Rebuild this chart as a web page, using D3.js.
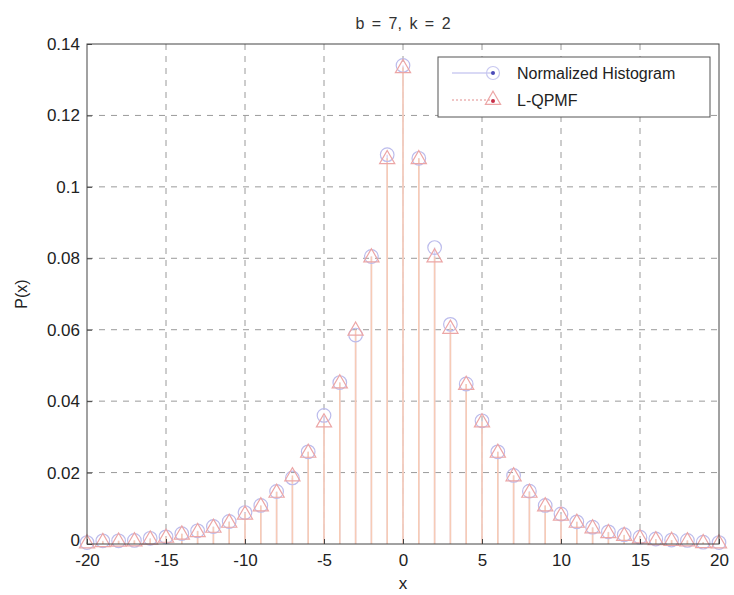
<!DOCTYPE html>
<html><head><meta charset="utf-8">
<script src="https://cdn.jsdelivr.net/npm/d3@7"></script>
<style>body{margin:0;background:#fff}svg{display:block;font-family:"Liberation Sans",Arial,sans-serif}</style>
</head><body>
<svg id="c" width="734" height="595"></svg>
<script>
const xs = [-20,-19,-18,-17,-16,-15,-14,-13,-12,-11,-10,-9,-8,-7,-6,-5,-4,-3,-2,-1,0,1,2,3,4,5,6,7,8,9,10,11,12,13,14,15,16,17,18,19,20];
const histVals = [0.0004,0.0009,0.0009,0.0010,0.0016,0.0020,0.0029,0.0037,0.0049,0.0063,0.0088,0.0108,0.0147,0.0185,0.0258,0.0360,0.0452,0.0585,0.0805,0.1090,0.1340,0.1080,0.0830,0.0615,0.0448,0.0345,0.0258,0.0192,0.0148,0.0108,0.0084,0.0062,0.0047,0.0034,0.0026,0.0019,0.0014,0.0011,0.0010,0.0005,0.0004];
const qpmfVals = [0.0004,0.0008,0.0009,0.0010,0.0015,0.0020,0.0029,0.0036,0.0048,0.0062,0.0085,0.0108,0.0146,0.0192,0.0258,0.0343,0.0452,0.0600,0.0805,0.1080,0.1335,0.1080,0.0805,0.0605,0.0448,0.0343,0.0258,0.0192,0.0146,0.0108,0.0082,0.0062,0.0046,0.0033,0.0025,0.0018,0.0013,0.0011,0.0010,0.0005,0.0004];
const xTicks = [-20,-15,-10,-5,0,5,10,15,20];
const yTicks = [0,0.02,0.04,0.06,0.08,0.1,0.12,0.14];
const seriesNames = ["Normalized Histogram","L-QPMF"];
const titleText = "b = 7, k = 2";

const svg = d3.select("#c");
const L=87, R=719, T=44, B=544;
const x = d3.scaleLinear().domain([-20,20]).range([L,R]);
const y = d3.scaleLinear().domain([0,0.14]).range([B,T]);

// grid
const g = svg.append("g");
g.selectAll(".gx").data(xTicks.slice(1,-1)).join("line")
 .attr("x1",d=>x(d)).attr("x2",d=>x(d)).attr("y1",T).attr("y2",B)
 .attr("stroke","#9a9a9a").attr("stroke-width",1).attr("stroke-dasharray","6,6");
g.selectAll(".gy").data(yTicks.slice(1,-1)).join("line")
 .attr("y1",d=>y(d)).attr("y2",d=>y(d)).attr("x1",L).attr("x2",R)
 .attr("stroke","#9a9a9a").attr("stroke-width",1).attr("stroke-dasharray","6,6");

const hist = xs.map((v,i)=>({x:v,y:histVals[i]}));
const qpmf = xs.map((v,i)=>({x:v,y:qpmfVals[i]}));

// stems
svg.append("g").selectAll("line").data(hist).join("line")
 .attr("x1",d=>x(d.x)).attr("x2",d=>x(d.x)).attr("y1",y(0)).attr("y2",d=>y(d.y))
 .attr("stroke","#dcd6f2").attr("stroke-width",1.5);
svg.append("g").selectAll("line").data(qpmf).join("line")
 .attr("x1",d=>x(d.x)).attr("x2",d=>x(d.x)).attr("y1",y(0)).attr("y2",d=>y(d.y))
 .attr("stroke","#f7cbb6").attr("stroke-width",1.6);

// markers
svg.append("g").selectAll("circle").data(hist).join("circle")
 .attr("cx",d=>x(d.x)).attr("cy",d=>y(d.y)).attr("r",6.8)
 .attr("fill","none").attr("stroke","#bcbcec").attr("stroke-width",1.2);
const tri = d3.symbol().type(d3.symbolTriangle).size(100);
svg.append("g").selectAll("path").data(qpmf).join("path")
 .attr("d",tri).attr("transform",d=>`translate(${x(d.x)},${y(d.y)+1})`)
 .attr("fill","none").attr("stroke","#eca6a6").attr("stroke-width",1.2);

// axes box
svg.append("rect").attr("x",L).attr("y",T).attr("width",R-L).attr("height",B-T)
 .attr("fill","none").attr("stroke","#444").attr("stroke-width",1);

const xAxis = d3.axisBottom(x).tickValues(xTicks).tickSize(-5).tickPadding(10).tickFormat(d=>d);
const ax = svg.append("g").attr("transform",`translate(0,${B})`).call(xAxis);
ax.select(".domain").remove();
ax.selectAll("text").attr("font-size",17).attr("fill","#222").attr("font-family","Liberation Sans, Arial, sans-serif");
ax.selectAll("line").attr("stroke","#444");
const yAxis = d3.axisLeft(y).tickValues(yTicks).tickSize(-5).tickPadding(7).tickFormat(d=>d===0?"0":String(d));
const ay = svg.append("g").attr("transform",`translate(${L},0)`).call(yAxis);
ay.select(".domain").remove();
ay.selectAll("text").attr("font-size",17).attr("fill","#222").attr("font-family","Liberation Sans, Arial, sans-serif");
ay.selectAll("line").attr("stroke","#444");
ay.selectAll(".tick").filter(d=>d===0).select("text").attr("dy","0.1em");

// labels
svg.append("text").attr("x",(L+R)/2).attr("y",29).attr("text-anchor","middle")
 .attr("font-size",16).attr("word-spacing",3).attr("fill","#333").text(titleText);
svg.append("text").attr("x",(L+R)/2).attr("y",589).attr("text-anchor","middle")
 .attr("font-size",17).attr("fill","#222").text("x");
svg.append("text").attr("transform","translate(27,294) rotate(-90)").attr("text-anchor","middle")
 .attr("font-size",16).attr("fill","#222").text("P(x)");

// legend
const lg = svg.append("g");
lg.append("rect").attr("x",438).attr("y",57).attr("width",272).attr("height",60)
 .attr("fill","#fff").attr("stroke","#555").attr("stroke-width",1);
const ly = [73,100];
lg.append("line").attr("x1",452).attr("x2",492).attr("y1",ly[0]).attr("y2",ly[0]).attr("stroke","#ccccf2").attr("stroke-width",1.5);
lg.append("circle").attr("cx",493).attr("cy",ly[0]).attr("r",6.5).attr("fill","none").attr("stroke","#c8c8f0").attr("stroke-width",1.2);
lg.append("circle").attr("cx",493).attr("cy",ly[0]).attr("r",2).attr("fill","#4a4ab8");
lg.append("line").attr("x1",452).attr("x2",492).attr("y1",ly[1]).attr("y2",ly[1]).attr("stroke","#ecb4b4").attr("stroke-width",1.5).attr("stroke-dasharray","2,2");
lg.append("path").attr("d",tri).attr("transform",`translate(493,${ly[1]})`).attr("fill","none").attr("stroke","#eca6a6").attr("stroke-width",1.2);
lg.append("circle").attr("cx",493).attr("cy",ly[1]+1).attr("r",2).attr("fill","#c83048");
lg.selectAll("text.l").data(seriesNames).join("text")
 .attr("x",517).attr("y",(d,i)=>ly[i]+6).attr("font-size",16).attr("fill","#222").text(d=>d);
</script>
</body></html>
